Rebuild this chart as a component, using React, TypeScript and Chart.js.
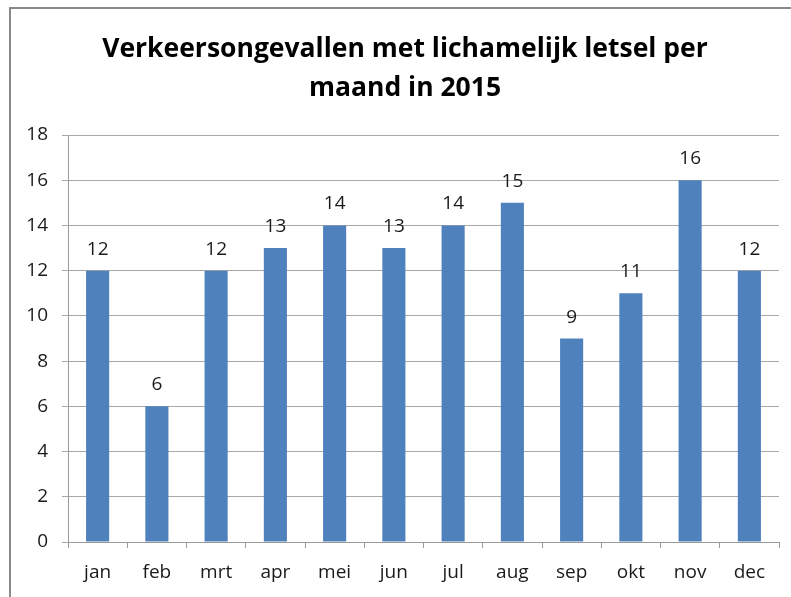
import React, { useEffect, useRef } from "react";
import { Chart, registerables } from "chart.js";

Chart.register(...registerables);

const months = ["jan", "feb", "mrt", "apr", "mei", "jun", "jul", "aug", "sep", "okt", "nov", "dec"];
const accidents = [12, 6, 12, 13, 14, 13, 14, 15, 9, 11, 16, 12];
const titleLines = ["Verkeersongevallen met lichamelijk letsel per", "maand in 2015"];

const FONT = "'Open Sans', sans-serif";

export default function App() {
  const ref = useRef<HTMLCanvasElement | null>(null);

  useEffect(() => {
    document.body.style.margin = "0";
    const frame = {
      id: "frame",
      beforeDraw(chart: any) {
        const c = chart.ctx;
        c.save();
        c.fillStyle = "#ffffff";
        c.fillRect(0, 0, chart.width, chart.height);
        c.strokeStyle = "#8a8a8a";
        c.lineWidth = 2;
        c.beginPath();
        c.moveTo(10, chart.height + 5);
        c.lineTo(10, 8);
        c.lineTo(chart.width + 5, 8);
        c.stroke();
        c.fillStyle = "#000";
        c.font = `bold 26.5px ${FONT}`;
        c.textAlign = "center";
        c.textBaseline = "alphabetic";
        c.fillText(titleLines[0], 405, 57);
        c.fillText(titleLines[1], 405, 96);
        c.restore();
      },
      afterDatasetsDraw(chart: any) {
        const c = chart.ctx;
        const meta = chart.getDatasetMeta(0);
        c.save();
        c.fillStyle = "#1a1a1a";
        c.font = `19px ${FONT}`;
        c.textAlign = "center";
        c.textBaseline = "alphabetic";
        meta.data.forEach((bar: any, i: number) => {
          c.fillText(String(accidents[i]), bar.x, bar.y - 16);
        });
        c.restore();
      },
    };

    const chart = new Chart(ref.current!, {
      type: "bar",
      data: {
        labels: months,
        datasets: [
          {
            data: accidents,
            backgroundColor: "#4F81BD",
            borderWidth: 0,
            barPercentage: 0.39,
            categoryPercentage: 1,
          },
        ],
      },
      options: {
        animation: false,
        responsive: false,
        devicePixelRatio: 1,
        layout: { padding: { top: 135, right: 12, left: 0, bottom: 0 } },
        plugins: { legend: { display: false }, title: { display: false }, tooltip: { enabled: false } },
        scales: {
          x: {
            offset: true,
            grid: {
              offset: true,
              drawOnChartArea: false,
              drawTicks: true,
              tickLength: 6,
              color: "#9a9a9a",
            },
            border: { color: "#9a9a9a", width: 1 },
            ticks: { color: "#1a1a1a", font: { family: FONT, size: 19 }, padding: 13, maxRotation: 0 },
            afterFit(scale: any) {
              scale.height = 55;
            },
          },
          y: {
            min: 0,
            max: 18,
            ticks: { stepSize: 2, color: "#1a1a1a", font: { family: FONT, size: 19 }, padding: 14 },
            grid: { color: "#a8a8a8", tickLength: 6, drawTicks: true },
            border: { color: "#9a9a9a", width: 1 },
            afterFit(scale: any) {
              scale.width = 68;
            },
          },
        },
      },
      plugins: [frame],
    } as any);
    return () => chart.destroy();
  }, []);

  return (
    <div style={{ position: "absolute", left: 0, top: 0, width: 791, height: 597 }}>
      <canvas ref={ref} width={791} height={597} style={{ width: 791, height: 597 }} />
    </div>
  );
}
